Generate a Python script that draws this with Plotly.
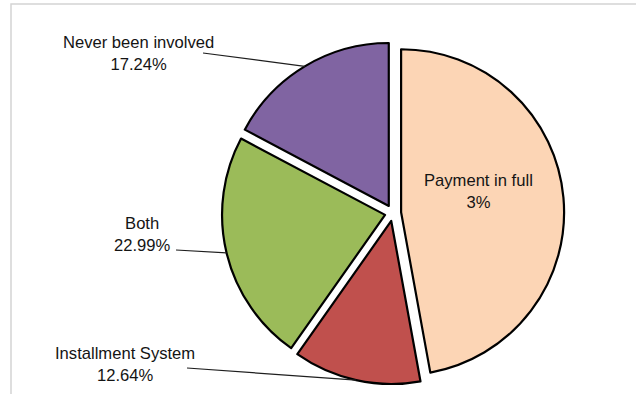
import math
import plotly.graph_objects as go

# Survey answers, clockwise from 12 o'clock
categories = ["Payment in full", "Installment System", "Both", "Never been involved"]
shares = [47.13, 12.64, 22.99, 17.24]
share_text = ["3%", "12.64%", "22.99%", "17.24%"]
colors = ["#FCD5B5", "#C0504D", "#9BBB59", "#8064A2"]

W, H = 636, 394
PULL = 0.05
DOM_X = [0.3488, 0.8870]
DOM_Y = [0.025, 0.8938]

fig = go.Figure(
    go.Pie(
        labels=categories,
        values=shares,
        sort=False,
        direction="clockwise",
        rotation=0,
        pull=PULL,
        marker=dict(colors=colors, line=dict(color="#000000", width=2.2)),
        textinfo="none",
        hoverinfo="label+percent",
        domain=dict(x=DOM_X, y=DOM_Y),
        showlegend=False,
    )
)

# Pie geometry in pixels (same rule plotly uses to size a pulled pie)
box_w = (DOM_X[1] - DOM_X[0]) * W
box_h = (DOM_Y[1] - DOM_Y[0]) * H
radius = min(box_w, box_h) / (2 * (1 + PULL))
cx = (DOM_X[0] + DOM_X[1]) / 2 * W
cy = (1 - (DOM_Y[0] + DOM_Y[1]) / 2) * H

total = sum(shares)
mid_angle = []
acc = 0.0
for v in shares:
    mid_angle.append((acc + v / 2) / total * 2 * math.pi)
    acc += v


def rim_point(i):
    a = mid_angle[i]
    dx, dy = math.sin(a), -math.cos(a)
    px = cx + dx * radius * (1 + PULL)
    py = cy + dy * radius * (1 + PULL)
    return px / W, 1 - py / H


def to_paper(px, py):
    return px / W, 1 - py / H


font = dict(family="Liberation Sans, Arial, sans-serif", size=16.6, color="#141414")

# Label centres and where each leader line leaves its label (pixels)
label_pos = {0: (478, 191), 1: (125, 364), 2: (142, 234), 3: (138, 53)}
leader_start = {1: (187, 368), 2: (176, 250), 3: (203, 53)}

annotations = []
for i, name in enumerate(categories):
    x, y = to_paper(*label_pos[i])
    annotations.append(
        dict(
            x=x, y=y, xref="paper", yref="paper",
            text=f"{name}<br>{share_text[i]}",
            showarrow=False, xanchor="center", yanchor="middle",
            font=font, align="center",
        )
    )

shapes = []
for i, (sx, sy) in leader_start.items():
    x0, y0 = to_paper(sx, sy)
    x1, y1 = rim_point(i)
    shapes.append(
        dict(type="line", xref="paper", yref="paper",
             x0=x0, y0=y0, x1=x1, y1=y1,
             line=dict(color="#1e1e1e", width=1.2))
    )

# light frame around the chart area
shapes.append(
    dict(type="rect", xref="paper", yref="paper",
         x0=11 / W, y0=-0.05, x1=1.05, y1=1 - 4 / H,
         line=dict(color="#d4d4d4", width=1.5), layer="below")
)

fig.update_layout(
    width=W, height=H,
    margin=dict(l=0, r=0, t=0, b=0),
    paper_bgcolor="#ffffff",
    plot_bgcolor="#ffffff",
    annotations=annotations,
    shapes=shapes,
)

fig.write_html("out.html")
